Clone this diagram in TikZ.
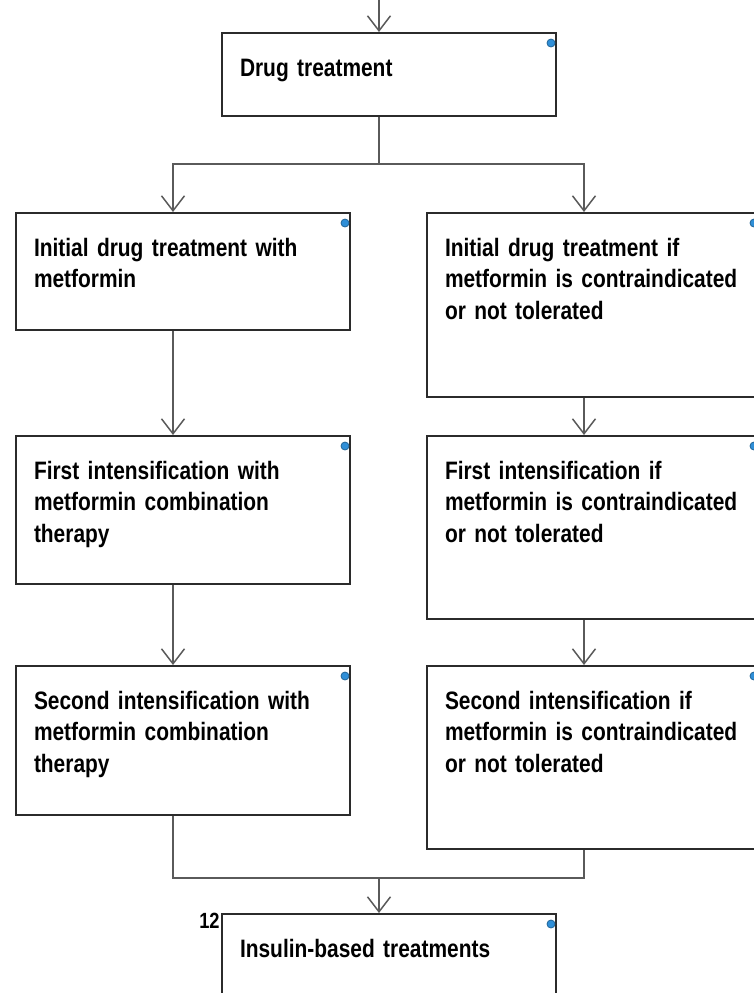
\documentclass[tikz,border=0pt]{standalone}
\usepackage{fontspec}
\setmainfont[FakeStretch=0.83,WordSpace=0.85]{Liberation Sans}
\usepackage{xcolor}
\usepackage{tikz}
\usetikzlibrary{
    arrows.meta,
    positioning
}
\definecolor{boxline}{HTML}{2B2B2B}
\definecolor{linkgray}{HTML}{5A5A5A}
\definecolor{dotblue}{HTML}{2F8FD8}

\begin{document}
\begin{tikzpicture}[x=0.5pt,y=-0.5pt,
   stage/.style={draw=boxline,line width=1pt,fill=white,anchor=north west,align=left,
     inner xsep=9pt,inner ysep=0pt,text width=149pt,text height=21.5pt,text=black,
     font=\fontsize{12.6pt}{15.8pt}\selectfont\bfseries},
   link/.style={draw=linkgray,line width=0.75pt,-{Straight Barb[length=7.5pt,width=11.5pt]}},
   wire/.style={draw=linkgray,line width=0.75pt},
   dot/.style={fill=dotblue,draw=dotblue!70!black,line width=0.4pt},
   tag/.style={inner sep=0pt,text=black,font=\fontsize{11pt}{13pt}\selectfont\bfseries}]
  \useasboundingbox (0,0) rectangle (754,993);
  \clip (0,0) rectangle (754,993);
  % top box
  \node[stage,text depth=20pt](drug) at (221,32){Drug treatment};
  % left: with metformin
  \node[stage,text depth=37pt](m1) at (15,212){Initial drug treatment with\\metformin};
  \node[stage,text depth=52.5pt](m2) at (15,435){First intensification with\\metformin combination\\therapy};
  \node[stage,text depth=53pt](m3) at (15,665){Second intensification with\\metformin combination\\therapy};
  % right: metformin contraindicated
  \node[stage,text depth=70.5pt](c1) at (426,212){Initial drug treatment if\\metformin is contraindicated\\or not tolerated};
  \node[stage,text depth=70pt](c2) at (426,435){First intensification if\\metformin is contraindicated\\or not tolerated};
  \node[stage,text depth=70pt](c3) at (426,665){Second intensification if\\metformin is contraindicated\\or not tolerated};
  % bottom box
  \node[stage,text depth=40pt](ins) at (221,913){Insulin-based treatments};
  \node[tag,anchor=base east](num) at ([xshift=-0.5pt,yshift=-7.5pt]ins.north west){12};
  % corner dots
  \path[dot] ([xshift=-3pt,yshift=-5.5pt]drug.north east) circle (2pt);
  \path[dot] ([xshift=-3pt,yshift=-5.5pt]m1.north east) circle (2pt);
  \path[dot] ([xshift=-3pt,yshift=-5.5pt]m2.north east) circle (2pt);
  \path[dot] ([xshift=-3pt,yshift=-5.5pt]m3.north east) circle (2pt);
  \path[dot] ([xshift=-4pt,yshift=-5.5pt]c1.north east) circle (2pt);
  \path[dot] ([xshift=-4pt,yshift=-5.5pt]c2.north east) circle (2pt);
  \path[dot] ([xshift=-4pt,yshift=-5.5pt]c3.north east) circle (2pt);
  \path[dot] ([xshift=-3pt,yshift=-5.5pt]ins.north east) circle (2pt);
  % connectors
  \coordinate (entry) at ([xshift=-5pt,yshift=17pt]drug.north);
  \coordinate (fork) at ([xshift=-5pt,yshift=-23.5pt]drug.south);
  \coordinate (merge) at ([xshift=-5pt,yshift=17.5pt]ins.north);
  \draw[link] (entry) -- ([xshift=-5pt]drug.north);
  \draw[wire] ([xshift=-5pt]drug.south) -- (fork);
  \draw[link] (fork) -| ([xshift=-5pt]m1.north);
  \draw[link] (fork) -| ([xshift=-5pt]c1.north);
  \draw[link] ([xshift=-5pt]m1.south) -- ([xshift=-5pt]m2.north);
  \draw[link] ([xshift=-5pt]m2.south) -- ([xshift=-5pt]m3.north);
  \draw[link] ([xshift=-5pt]c1.south) -- ([xshift=-5pt]c2.north);
  \draw[link] ([xshift=-5pt]c2.south) -- ([xshift=-5pt]c3.north);
  \draw[wire] ([xshift=-5pt]m3.south) |- (merge);
  \draw[wire] ([xshift=-5pt]c3.south) |- (merge);
  \draw[link] (merge) -- ([xshift=-5pt]ins.north);
\end{tikzpicture}
\end{document}
